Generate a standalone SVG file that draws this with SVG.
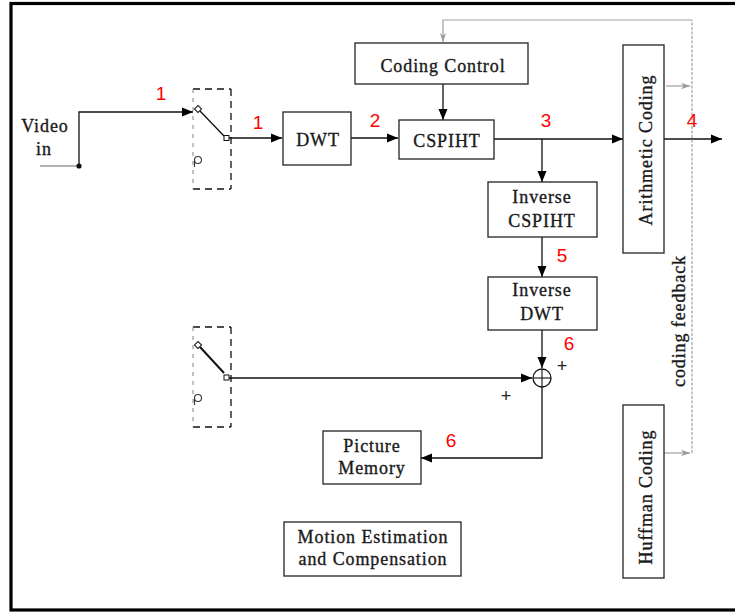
<svg xmlns="http://www.w3.org/2000/svg" width="735" height="613" viewBox="0 0 735 613">
  <defs>
    <marker id="arrow" viewBox="0 0 11 10" refX="11" refY="5" markerWidth="11" markerHeight="10" markerUnits="userSpaceOnUse" orient="auto">
      <path d="M0,0.5 L11,5 L0,9.5 Z" fill="#000"/>
    </marker>
    <marker id="arrowGray" viewBox="0 0 10 10" refX="10" refY="5" markerWidth="9" markerHeight="9" markerUnits="userSpaceOnUse" orient="auto">
      <path d="M0,1.5 L10,5 L0,8.5 L3,5 Z" fill="#9a9a9a"/>
    </marker>
  </defs>
  <style>
    .box { fill: #fff; stroke: #222; stroke-width: 1.3; }
    .lbl { font-family: "Liberation Serif", "Times New Roman", serif; font-size: 18px; fill: #1a1a1a; stroke: #1a1a1a; stroke-width: 0.35; letter-spacing: 0.9px; text-anchor: middle; }
    .num { font-family: "Liberation Sans", Arial, sans-serif; font-size: 19px; fill: #ff0000; text-anchor: middle; }
    .wire { fill: none; stroke: #111; stroke-width: 1.3; }
    .fb { fill: none; stroke: #a0a0a0; stroke-width: 1.2; }
    .dash { fill: none; stroke: #111; stroke-width: 1.3; stroke-dasharray: 7 5; }
    .dashGray { fill: none; stroke: #999; stroke-width: 1.2; stroke-dasharray: 4 5; }
    .pm { font-family: "Liberation Sans", Arial, sans-serif; font-size: 18px; fill: #222; text-anchor: middle; }
  </style>

  <!-- outer frame -->
  <rect x="11" y="3.5" width="730" height="606.5" fill="#fff" stroke="#000" stroke-width="3.2"/>

  <!-- connectors -->
  <g id="connectors">
    <!-- video input -->
    <line x1="40" y1="166" x2="79" y2="166" stroke="#666" stroke-width="1.2"/>
    <circle cx="79" cy="166" r="2.6" fill="#111"/>
    <path class="wire" d="M79,166 V112 H193" marker-end="url(#arrow)"/>
    <!-- switch to DWT -->
    <line class="wire" x1="229" y1="138" x2="282" y2="138" marker-end="url(#arrow)"/>
    <!-- DWT to CSPIHT -->
    <line class="wire" x1="351" y1="138" x2="398" y2="138" marker-end="url(#arrow)"/>
    <!-- Coding Control to CSPIHT -->
    <line class="wire" x1="443" y1="84" x2="443" y2="120" marker-end="url(#arrow)"/>
    <!-- CSPIHT to Arithmetic Coding -->
    <line class="wire" x1="494" y1="139" x2="623" y2="139" marker-end="url(#arrow)"/>
    <!-- bitstream out -->
    <line class="wire" x1="664" y1="139" x2="722" y2="139" marker-end="url(#arrow)"/>
    <!-- branch to Inverse CSPIHT -->
    <line class="wire" x1="542" y1="139" x2="542" y2="182" marker-end="url(#arrow)"/>
    <!-- Inverse CSPIHT to Inverse DWT -->
    <line class="wire" x1="542" y1="237" x2="542" y2="277" marker-end="url(#arrow)"/>
    <!-- Inverse DWT to adder -->
    <line class="wire" x1="542" y1="330" x2="542" y2="368" marker-end="url(#arrow)"/>
    <!-- prediction switch to adder -->
    <line class="wire" x1="229" y1="378" x2="532" y2="378" marker-end="url(#arrow)"/>
    <!-- adder to Picture Memory -->
    <path class="wire" d="M542,387 V458 H421" marker-end="url(#arrow)"/>

    <!-- coding feedback path -->
    <path class="fb" d="M692,453 V20" stroke-dasharray="3 1.5"/>
    <path class="fb" d="M692,20 H443 V42" marker-end="url(#arrowGray)"/>
    <line class="fb" x1="666" y1="86" x2="690" y2="86" marker-end="url(#arrowGray)"/>
    <line class="fb" x1="664" y1="453" x2="690" y2="453" marker-end="url(#arrowGray)"/>
  </g>

  <!-- input switch -->
  <g id="switch-in">
    <line class="dash" x1="193" y1="89" x2="231" y2="89"/>
    <line class="dash" x1="231" y1="89" x2="231" y2="189"/>
    <line class="dash" x1="193" y1="189" x2="231" y2="189"/>
    <line class="dashGray" x1="193" y1="89" x2="193" y2="189"/>
    <rect x="195.5" y="106.5" width="5" height="5" fill="#fff" stroke="#111" stroke-width="1" transform="rotate(45 198 109)"/>
    <line x1="200" y1="111" x2="224" y2="136" stroke="#111" stroke-width="1.3"/>
    <rect x="224" y="135.5" width="5" height="5" fill="#fff" stroke="#111" stroke-width="1"/>
    <circle cx="198" cy="160" r="3.5" fill="#fff" stroke="#333" stroke-width="1.1"/>
    <line x1="194.5" y1="160" x2="194.5" y2="167" stroke="#333" stroke-width="1.1"/>
  </g>

  <!-- prediction switch -->
  <g id="switch-pred">
    <line class="dash" x1="193" y1="327" x2="231" y2="327"/>
    <line class="dash" x1="231" y1="327" x2="231" y2="427"/>
    <line class="dash" x1="193" y1="427" x2="231" y2="427"/>
    <line class="dashGray" x1="193" y1="327" x2="193" y2="427"/>
    <rect x="195.5" y="342.5" width="5" height="5" fill="#fff" stroke="#111" stroke-width="1" transform="rotate(45 198 345)"/>
    <line x1="200" y1="347" x2="224" y2="373" stroke="#111" stroke-width="2"/>
    <rect x="224" y="375" width="5" height="5" fill="#fff" stroke="#111" stroke-width="1"/>
    <circle cx="198" cy="398" r="3.5" fill="#fff" stroke="#333" stroke-width="1.1"/>
    <line x1="194.5" y1="398" x2="194.5" y2="405" stroke="#333" stroke-width="1.1"/>
  </g>

  <g id="video-in">
    <text class="lbl" x="45" y="132">Video</text>
    <text class="lbl" x="44" y="155">in</text>
  </g>

  <g id="dwt">
    <rect class="box" x="283" y="112" width="68" height="53"/>
    <text class="lbl" x="318" y="146">DWT</text>
  </g>

  <g id="coding-control">
    <rect class="box" x="355" y="43" width="173" height="41"/>
    <text class="lbl" x="443" y="72">Coding Control</text>
  </g>

  <g id="cspiht">
    <rect class="box" x="399" y="120" width="95" height="39"/>
    <text class="lbl" x="447" y="147">CSPIHT</text>
  </g>

  <g id="arithmetic-coding">
    <rect class="box" x="623" y="45" width="41" height="208"/>
    <text class="lbl" transform="translate(652 150) rotate(-90)" x="0" y="0">Arithmetic Coding</text>
  </g>

  <g id="inverse-cspiht">
    <rect class="box" x="488" y="182" width="109" height="55"/>
    <text class="lbl" x="542" y="203">Inverse</text>
    <text class="lbl" x="542" y="227">CSPIHT</text>
  </g>

  <g id="inverse-dwt">
    <rect class="box" x="488" y="277" width="109" height="53"/>
    <text class="lbl" x="542" y="296">Inverse</text>
    <text class="lbl" x="542" y="320">DWT</text>
  </g>

  <g id="adder">
    <circle cx="542" cy="378" r="9" fill="#fff" stroke="#111" stroke-width="1.3"/>
    <line x1="533" y1="378" x2="551" y2="378" stroke="#111" stroke-width="1.1"/>
    <line x1="542" y1="369" x2="542" y2="387" stroke="#111" stroke-width="1.1"/>
    <text class="pm" x="562" y="372">+</text>
    <text class="pm" x="506" y="402">+</text>
  </g>

  <g id="picture-memory">
    <rect class="box" x="323" y="431" width="98" height="53"/>
    <text class="lbl" x="372" y="452">Picture</text>
    <text class="lbl" x="372" y="474">Memory</text>
  </g>

  <g id="motion-estimation">
    <rect class="box" x="284" y="522" width="177" height="54"/>
    <text class="lbl" x="373" y="543">Motion Estimation</text>
    <text class="lbl" x="373" y="565">and Compensation</text>
  </g>

  <g id="huffman-coding">
    <rect class="box" x="623" y="405" width="41" height="173"/>
    <text class="lbl" transform="translate(652 497) rotate(-90)" x="0" y="0">Huffman Coding</text>
  </g>

  <g id="coding-feedback-label">
    <text class="lbl" transform="translate(685 321) rotate(-90)" x="0" y="0" font-size="16.5">coding feedback</text>
  </g>

  <!-- signal point numbers -->
  <g id="numbers">
    <text class="num" x="161" y="100">1</text>
    <text class="num" x="258" y="129">1</text>
    <text class="num" x="375" y="127">2</text>
    <text class="num" x="546" y="127">3</text>
    <text class="num" x="692" y="127">4</text>
    <text class="num" x="562" y="262">5</text>
    <text class="num" x="569" y="350">6</text>
    <text class="num" x="451" y="447">6</text>
  </g>
</svg>
